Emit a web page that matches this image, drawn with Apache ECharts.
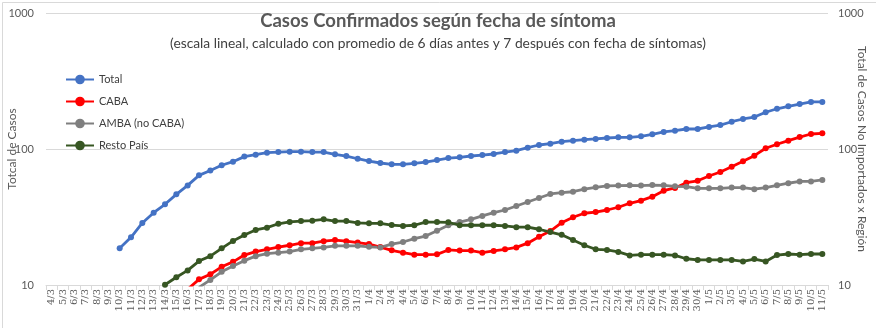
<!DOCTYPE html>
<html>
<head>
<meta charset="utf-8">
<script src="https://cdn.jsdelivr.net/npm/echarts@6/dist/echarts.min.js"></script>
<style>
html,body{margin:0;padding:0;background:#fff;}
#c{width:876px;height:328px;}
</style>
</head>
<body>
<div id="c"></div>
<script>
var categories = ["4/3","5/3","6/3","7/3","8/3","9/3","10/3","11/3","12/3","13/3","14/3","15/3","16/3","17/3","18/3","19/3","20/3","21/3","22/3","23/3","24/3","25/3","26/3","27/3","28/3","29/3","30/3","31/3",
"1/4","2/4","3/4","4/4","5/4","6/4","7/4","8/4","9/4","10/4","11/4","12/4","13/4","14/4","15/4","16/4","17/4","18/4","19/4","20/4","21/4","22/4","23/4","24/4","25/4","26/4","27/4","28/4","29/4","30/4",
"1/5","2/5","3/5","4/5","5/5","6/5","7/5","8/5","9/5","10/5","11/5"];

var total = [null,null,null,null,null,null,18.6,22.4,28.6,34,39.2,46.4,54,64,69.5,75.9,80.7,87.9,90.8,94,95,95.5,95.5,95,95,91.4,88.8,84.8,81.6,78.9,77.2,77.2,78.5,80.2,83,85.8,86.9,88.8,90.3,91.9,95,97.2,102.2,107,109.4,113.2,115.1,117,118.5,120.5,121.9,121.9,124,128.2,133.4,136.4,140.3,140.3,145.2,150,158.7,166.2,171.8,186.2,197.6,206,214,221.8,221.8];

var caba = [null,null,null,null,null,null,null,null,null,null,null,null,9.3,11.0,12.0,13.6,14.8,16.6,17.6,18.3,19.0,19.6,20.3,20.3,21.0,21.4,21.0,20.5,20.0,19.0,18.0,17.3,16.7,16.7,16.8,18.1,17.9,17.9,17.3,17.8,18.3,18.9,20.3,22.6,24.9,28.7,31.5,33.7,34.4,35.6,37.3,39.9,41.7,44.6,49.4,51.7,56.5,58.4,63.3,67.7,74.1,81.2,89.3,101.2,108.3,115.1,122.4,128.9,130.4];

var amba = [null,null,null,null,null,null,null,null,null,null,null,null,null,9.6,10.9,12.5,13.8,15.1,16.3,17.0,17.3,17.6,18.3,18.6,18.9,19.4,19.4,19.4,19.1,18.9,20.0,20.7,21.9,22.9,25.1,27.5,29.0,30.4,32.2,34.0,35.6,38.1,40.8,43.6,46.7,47.7,48.5,50.6,52.3,53.5,53.8,54.1,53.8,54.3,54.1,53.2,52.8,51.4,51.4,51.4,52.0,52.0,50.6,52.0,54.1,56.0,57.8,57.8,59.2];

var resto = [null,null,null,null,null,null,null,null,null,null,10.05,11.4,12.8,15.0,16.3,18.6,21.1,23.3,25.4,26.4,28.2,29.1,29.5,29.7,30.4,29.5,29.5,28.6,28.4,28.4,27.6,27.2,27.5,29.0,29.0,28.9,27.5,27.5,27.5,27.5,27.2,26.6,26.6,25.7,24.5,23.4,21.4,19.6,18.3,18.1,17.5,16.5,16.7,16.7,16.7,16.5,15.6,15.3,15.3,15.3,15.3,14.9,15.5,14.9,16.6,16.9,16.7,16.9,16.9];

var seriesNames = ["Total","CABA","AMBA (no CABA)","Resto País"];
var seriesColors = ["#4472C4","#FF0000","#7F7F7F","#375623"];
var seriesData = [total, caba, amba, resto];

var FONT = "Lato, 'Open Sans', sans-serif";
var chart = echarts.init(document.getElementById('c'), null, {renderer:'canvas'});

var series = seriesData.map(function(d, i){
  return {
    name: seriesNames[i],
    type: 'line',
    data: d,
    yAxisIndex: 0,
    symbol: 'circle',
    symbolSize: 6,
    showAllSymbol: true,
    clip: true,
    lineStyle: {width: 2.8, color: seriesColors[i]},
    itemStyle: {color: seriesColors[i]},
    emphasis: {disabled: true},
    animation: false
  };
});

var yAxisCommon = {
  type: 'log', logBase: 10, min: 10, max: 1000,
  axisLine: {show: false},
  axisTick: {show: false},
  axisLabel: {color: '#595959', fontSize: 11, fontFamily: FONT, formatter: function(v){ return String(Math.round(v)); }},
  nameLocation: 'middle',
  nameMoveOverlap: false,
  nameTextStyle: {color: '#595959', fontSize: 12, fontFamily: FONT}
};

chart.setOption({
  animation: false,
  backgroundColor: '#ffffff',
  title: {
    text: 'Casos Confirmados según fecha de síntoma',
    subtext: '(escala lineal, calculado con promedio de 6 días antes y 7 después con fecha de síntomas)',
    left: 'center', top: 7, itemGap: 6,
    textStyle: {fontFamily: FONT, fontSize: 18.5, fontWeight: 'bold', color: '#595959'},
    subtextStyle: {fontFamily: FONT, fontSize: 13.8, color: '#404040'}
  },
  legend: {
    orient: 'vertical', left: 60, top: 69,
    itemWidth: 28, itemHeight: 12, itemGap: 11,
    textStyle: {fontFamily: FONT, fontSize: 11, color: '#404040'},
    data: seriesNames,
    selectedMode: false
  },
  grid: {left: 46, right: 48, top: 13, bottom: 43, containLabel: false, outerBoundsMode: 'none'},
  xAxis: {
    type: 'category', data: categories, boundaryGap: true,
    axisLine: {show: true, lineStyle: {color: '#d9d9d9', width: 1}},
    axisTick: {show: true, length: 5, interval: 0, lineStyle: {color: '#d9d9d9'}},
    axisLabel: {interval: 0, rotate: 90, fontSize: 10, color: '#595959', fontFamily: "'DejaVu Serif', serif", margin: 4},
    splitLine: {show: false}
  },
  yAxis: [
    Object.assign({}, yAxisCommon, {
      position: 'left', name: 'Totcal de Casos', nameGap: 28,
      axisLabel: Object.assign({}, yAxisCommon.axisLabel, {margin: 12}),
      splitLine: {show: true, lineStyle: {color: '#d9d9d9', width: 1}},
      minorSplitLine: {show: false}
    }),
    Object.assign({}, yAxisCommon, {
      position: 'right', name: 'Total de Casos No Importados x Región', nameGap: 28, nameRotate: -90,
      axisLabel: Object.assign({}, yAxisCommon.axisLabel, {margin: 10}),
      splitLine: {show: false}
    })
  ],
  graphic: [{
    type: 'rect', left: 0, top: 0, silent: true,
    shape: {x: 0.5, y: 0.5, width: 875, height: 327},
    style: {fill: 'none', stroke: '#d9d9d9', lineWidth: 1}
  }],
  series: series
});
</script>
</body>
</html>
